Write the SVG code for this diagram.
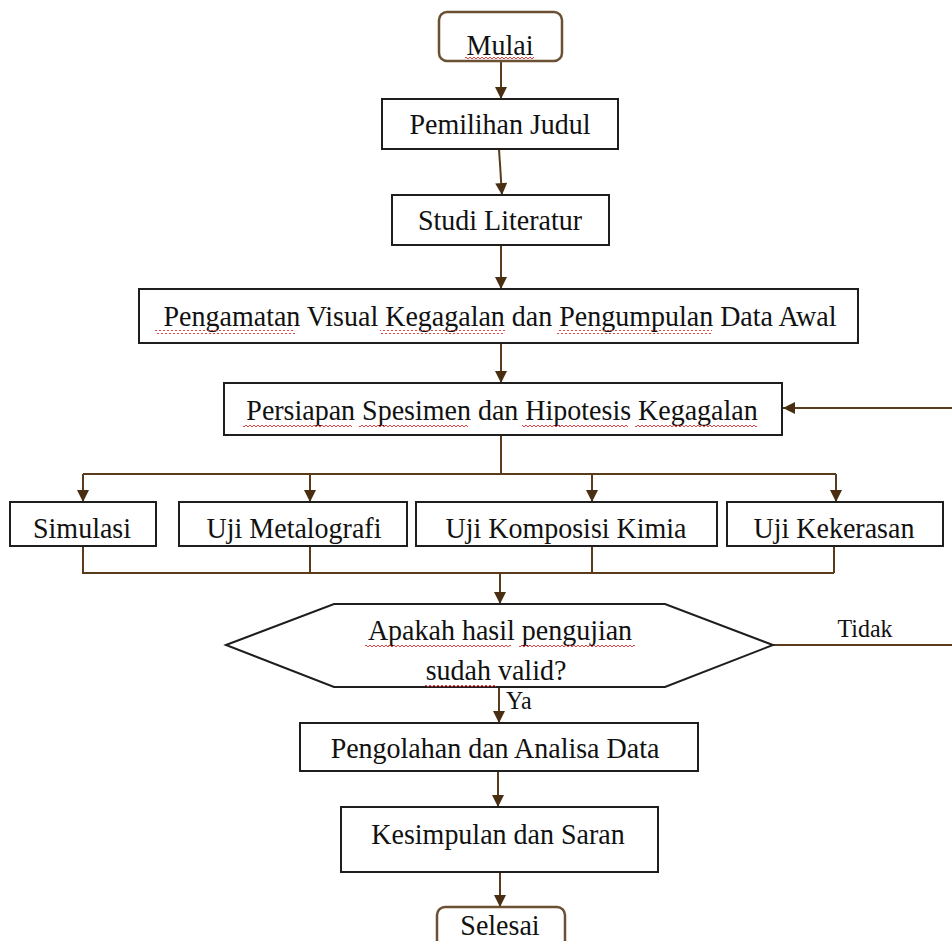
<svg xmlns="http://www.w3.org/2000/svg" width="952" height="941" viewBox="0 0 952 941">
<style>
.box{fill:#fff;stroke:#1e1e1e;stroke-width:2}
.term{fill:#fff;stroke:#6b5034;stroke-width:2.5}
.t{font-family:"Liberation Serif","Times New Roman",serif;font-size:28px;fill:#111;text-anchor:middle}
.s{font-family:"Liberation Serif","Times New Roman",serif;font-size:24px;fill:#111}
.c{fill:none;stroke:#5a3b1c;stroke-width:2}
.a{marker-end:url(#ah)}
.sq{fill:url(#wave)}
</style>
<defs>
<marker id="ah" viewBox="0 0 10 10" refX="10" refY="5" markerWidth="6.5" markerHeight="6" orient="auto" markerUnits="strokeWidth">
<path d="M0,0 L10,5 L0,10 z" fill="#4a2e12"/>
</marker>
<pattern id="wave" patternUnits="userSpaceOnUse" width="4" height="4">
<path d="M0,3 L2,1 L4,3" fill="none" stroke="#e03030" stroke-width="0.9"/>
</pattern>
</defs>
<rect width="952" height="941" fill="#fff"/>

<g id="connectors">
<path class="c a" d="M501,61 V99"/>
<path class="c a" d="M499,149 L502,195"/>
<path class="c a" d="M501,245 V289"/>
<path class="c a" d="M501,343 V383"/>
<path class="c" d="M501,435 V474 M83,474 H836"/>
<path class="c a" d="M83,474 V502"/>
<path class="c a" d="M310,474 V502"/>
<path class="c a" d="M592,474 V502"/>
<path class="c a" d="M836,474 V502"/>
<path class="c" d="M83,546 V573 H834 M310,546 V573 M592,546 V573 M834,546 V573"/>
<path class="c a" d="M500,573 V604"/>
<path class="c a" d="M499,687 V723"/>
<path class="c a" d="M498,771 V807"/>
<path class="c a" d="M500,872 V907"/>
<path class="c a" d="M773,645 H962 V408 H783"/>
<text class="s" transform="translate(865,637) scale(1,1.08)" text-anchor="middle">Tidak</text>
<text class="s" transform="translate(506,709) scale(1,1.08)">Ya</text>
</g>

<g id="mulai">
<rect class="term" x="439" y="12" width="123" height="49" rx="8"/>
<text class="t" transform="translate(500,55) scale(1,1.08)">Mulai</text>
<rect class="sq" x="465" y="57" width="69" height="4"/>
</g>

<g id="pemilihan-judul">
<rect class="box" x="382" y="99" width="236" height="50"/>
<text class="t" transform="translate(500,134) scale(1,1.08)">Pemilihan Judul</text>
</g>

<g id="studi-literatur">
<rect class="box" x="392" y="195" width="217" height="50"/>
<text class="t" transform="translate(500,230) scale(1,1.08)">Studi Literatur</text>
</g>

<g id="pengamatan">
<rect class="box" x="139" y="289" width="719" height="54"/>
<text class="t" transform="translate(500,326) scale(1,1.08)">Pengamatan Visual Kegagalan dan Pengumpulan Data Awal</text>
<rect class="sq" x="155" y="330" width="140" height="4"/>
<rect class="sq" x="380" y="330" width="125" height="4"/>
<rect class="sq" x="557" y="330" width="155" height="4"/>
</g>

<g id="persiapan">
<rect class="box" x="224" y="383" width="558" height="52"/>
<text class="t" transform="translate(502,420) scale(1,1.08)">Persiapan Spesimen dan Hipotesis Kegagalan</text>
<rect class="sq" x="243" y="424" width="109" height="4"/>
<rect class="sq" x="359" y="424" width="109" height="4"/>
<rect class="sq" x="522" y="424" width="106" height="4"/>
<rect class="sq" x="635" y="424" width="122" height="4"/>
</g>

<g id="simulasi">
<rect class="box" x="10" y="502" width="146" height="44"/>
<text class="t" transform="translate(82,538) scale(1,1.08)">Simulasi</text>
</g>

<g id="uji-metalografi">
<rect class="box" x="179" y="502" width="228" height="44"/>
<text class="t" transform="translate(294,538) scale(1,1.08)">Uji Metalografi</text>
</g>

<g id="uji-komposisi-kimia">
<rect class="box" x="416" y="502" width="301" height="44"/>
<text class="t" transform="translate(566,538) scale(1,1.08)">Uji Komposisi Kimia</text>
</g>

<g id="uji-kekerasan">
<rect class="box" x="727" y="502" width="216" height="44"/>
<text class="t" transform="translate(834,538) scale(1,1.08)">Uji Kekerasan</text>
</g>

<g id="keputusan">
<polygon class="box" points="226,645 334,604 665,604 773,645 665,687 334,687"/>
<text class="t" transform="translate(500,640) scale(1,1.08)">Apakah hasil pengujian</text>
<text class="t" transform="translate(496,680) scale(1,1.08)">sudah valid?</text>
<rect class="sq" x="365" y="645" width="146" height="4"/>
<rect class="sq" x="519" y="645" width="116" height="4"/>
<rect class="sq" x="425" y="685" width="71" height="4"/>
</g>

<g id="pengolahan">
<rect class="box" x="300" y="723" width="398" height="48"/>
<text class="t" transform="translate(495,758) scale(1,1.08)">Pengolahan dan Analisa Data</text>
</g>

<g id="kesimpulan">
<rect class="box" x="341" y="807" width="317" height="65"/>
<text class="t" transform="translate(498,844) scale(1,1.08)">Kesimpulan dan Saran</text>
</g>

<g id="selesai">
<rect class="term" x="437" y="907" width="128" height="50" rx="8"/>
<text class="t" transform="translate(500,935) scale(1,1.08)">Selesai</text>
</g>
</svg>
